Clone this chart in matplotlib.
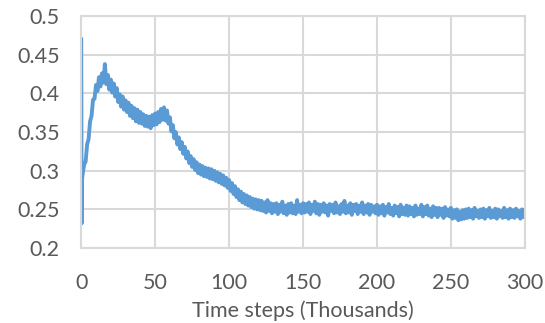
import numpy as np
import matplotlib.pyplot as plt

# pico inicial en t=0 y luego un valor por cada mil pasos (t = 1..300)
t_start = [0, 0.3, 0.6]
v_start = [0.47, 0.232, 0.29]

t_rest = np.arange(1, 301)
v_rest = [
    0.296, 0.308, 0.312, 0.334, 0.341, 0.364, 0.371, 0.392, 0.393, 0.411,
    0.403, 0.421, 0.409, 0.426, 0.414, 0.438, 0.412, 0.424, 0.405, 0.418,
    0.401, 0.413, 0.396, 0.407, 0.389, 0.399, 0.383, 0.396, 0.379, 0.391,
    0.376, 0.388, 0.371, 0.384, 0.368, 0.381, 0.364, 0.379, 0.362, 0.376,
    0.361, 0.373, 0.358, 0.371, 0.357, 0.370, 0.355, 0.372, 0.359, 0.374,
    0.360, 0.376, 0.363, 0.380, 0.366, 0.382, 0.365, 0.378, 0.361, 0.369,
    0.351, 0.359, 0.342, 0.350, 0.334, 0.343, 0.328, 0.337, 0.322, 0.331,
    0.316, 0.325, 0.310, 0.319, 0.305, 0.315, 0.301, 0.311, 0.297, 0.308,
    0.295, 0.306, 0.293, 0.304, 0.292, 0.303, 0.290, 0.302, 0.289, 0.300,
    0.287, 0.298, 0.285, 0.296, 0.283, 0.294, 0.281, 0.291, 0.278, 0.288,
    0.274, 0.284, 0.270, 0.280, 0.266, 0.276, 0.262, 0.273, 0.259, 0.270,
    0.257, 0.268, 0.255, 0.266, 0.253, 0.264, 0.251, 0.263, 0.250, 0.262,
    0.249, 0.261, 0.248, 0.259, 0.246, 0.262, 0.248, 0.258, 0.245, 0.257,
    0.247, 0.258, 0.244, 0.256, 0.247, 0.260, 0.245, 0.255, 0.243, 0.257,
    0.246, 0.258, 0.245, 0.255, 0.244, 0.262, 0.247, 0.256, 0.245, 0.258,
    0.246, 0.257, 0.247, 0.259, 0.244, 0.256, 0.248, 0.260, 0.245, 0.257,
    0.243, 0.256, 0.247, 0.258, 0.246, 0.255, 0.242, 0.257, 0.248, 0.256,
    0.245, 0.259, 0.246, 0.254, 0.244, 0.257, 0.247, 0.261, 0.245, 0.255,
    0.246, 0.258, 0.243, 0.256, 0.248, 0.257, 0.244, 0.255, 0.247, 0.259,
    0.244, 0.255, 0.246, 0.257, 0.243, 0.256, 0.247, 0.254, 0.245, 0.256,
    0.243, 0.254, 0.245, 0.256, 0.242, 0.253, 0.246, 0.257, 0.244, 0.252,
    0.242, 0.255, 0.245, 0.253, 0.241, 0.256, 0.244, 0.252, 0.243, 0.255,
    0.242, 0.254, 0.244, 0.252, 0.241, 0.255, 0.243, 0.251, 0.244, 0.256,
    0.241, 0.253, 0.244, 0.255, 0.242, 0.251, 0.240, 0.254, 0.243, 0.252,
    0.240, 0.252, 0.243, 0.251, 0.239, 0.253, 0.242, 0.250, 0.241, 0.252,
    0.238, 0.249, 0.239, 0.250, 0.236, 0.247, 0.237, 0.249, 0.238, 0.250,
    0.239, 0.251, 0.240, 0.249, 0.238, 0.252, 0.241, 0.248, 0.239, 0.250,
    0.240, 0.251, 0.238, 0.249, 0.241, 0.252, 0.239, 0.248, 0.240, 0.251,
    0.238, 0.250, 0.241, 0.248, 0.239, 0.252, 0.240, 0.249, 0.238, 0.251,
    0.240, 0.249, 0.239, 0.251, 0.241, 0.248, 0.238, 0.250, 0.240, 0.249,
]

x_ticks = [0, 50, 100, 150, 200, 250, 300]
y_ticks = [0.2, 0.25, 0.3, 0.35, 0.4, 0.45, 0.5]

t = np.concatenate([t_start, t_rest])
v = np.concatenate([v_start, v_rest])

plt.rcParams["font.family"] = ["Lato", "DejaVu Sans"]
text_color = "#595959"
grid_color = "#d9d9d9"

fig = plt.figure(figsize=(5.45, 3.23), dpi=100)
ax = fig.add_axes([0.149, 0.232, 0.814, 0.718])

ax.plot(t, v, color="#5b9bd5", linewidth=2.8)

ax.set_xlim(0, 300)
ax.set_ylim(0.2, 0.5)
ax.set_xticks(x_ticks)
ax.set_yticks(y_ticks)
ax.set_yticklabels([f"{y:g}" for y in y_ticks])
ax.grid(True, color=grid_color, linewidth=1.5)
ax.set_axisbelow(True)
for s in ax.spines.values():
    s.set_color(grid_color)
    s.set_linewidth(1.5)
ax.tick_params(axis="both", length=0, labelsize=15.5, labelcolor=text_color)
ax.tick_params(axis="y", pad=15.5)
ax.tick_params(axis="x", pad=18)
ax.set_xlabel("Time steps (Thousands)", fontsize=15.5, color=text_color, labelpad=5)

fig.savefig("out.png", dpi=100)
